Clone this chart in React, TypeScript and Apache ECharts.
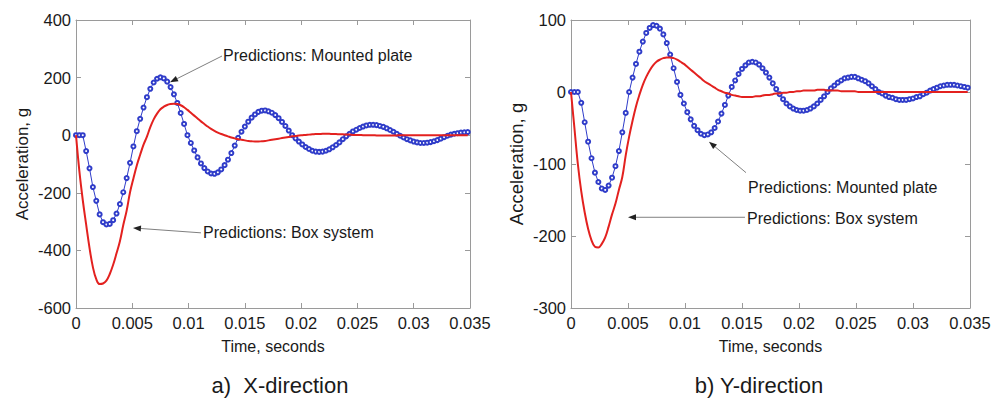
import React, { useEffect, useRef } from "react";
import * as echarts from "echarts";

// Sampling step of the recorded time histories (seconds)
const TIME_STEP = 0.0003;

// a) X-direction, acceleration in g
const X_MOUNTED = [
  0, 0, 0, -55, -115, -180, -228, -275, -302, -310,
  -308, -295, -272, -239, -198, -149, -96, -39,
  14, 57, 96, 132, 161, 183, 196, 201,
  197, 186, 167, 142, 112, 77, 39, 0,
  -27, -53, -77, -98, -114, -126, -133,
  -134, -129, -119, -104, -85, -62, -36, -9,
  12, 30, 47, 61, 72, 81, 85,
  86, 83, 78, 70, 59, 46, 32, 16, 0,
  -11, -22, -32, -41, -48, -54, -57, -58,
  -57, -54, -49, -42, -34, -25, -14, -4,
  5, 13, 19, 25, 30, 34, 36,
  36, 35, 32, 29, 24, 18, 12, 5,
  -2, -8, -14, -18, -22, -25, -27,
  -27, -26, -24, -21, -17, -12, -7, -2,
  2, 5, 7, 9, 10, 11,
];
const X_BOX = [
  0, -125, -225, -310, -391, -458, -500, -517, -515,
  -505, -482, -450, -410, -368, -312, -262, -198, -150, -105, -68, -33,
  -5, 28, 55, 75, 90, 99, 105, 108, 109,
  108, 104, 97, 88, 78, 68, 58, 48, 39, 30, 22, 15, 9, 4,
  0, -4, -8, -11, -14, -16, -18, -20, -21, -22,
  -22, -21, -20, -18, -16, -14, -12, -10, -8, -6,
  -4, -3, -1, 0, 1, 2, 3, 4, 4, 5,
  5, 5, 4, 4, 3, 3, 2,
  2, 1, 1, 1, 0, 0, 0, 0, -1, -1, -1, -1, -1, -1, -1,
  0, 0, 0, 0, 0, 0, 0, 0, 0, 0, 0,
  0, 0, 0, 0, 0, 0, 0, 0, 0, 0,
];

// b) Y-direction, acceleration in g
const Y_MOUNTED = [
  0, 0, 0, -15, -42, -69, -92, -112, -125, -134,
  -136, -130, -119, -103, -82, -56, -29, 0,
  20, 39, 56, 70, 82, 89, 93,
  92, 88, 80, 68, 52, 33, 14, -4,
  -16, -28, -38, -47, -53, -58, -60,
  -59, -56, -50, -41, -30, -18, -5,
  7, 16, 25, 32, 37, 41, 42,
  41, 38, 33, 27, 20, 12, 4, -3,
  -10, -16, -20, -23, -25, -26, -26,
  -25, -23, -20, -16, -11, -6, 0,
  5, 9, 13, 16, 19, 20, 21,
  21, 19, 17, 15, 12, 8, 4, 0,
  -2, -5, -7, -8, -10, -11, -11,
  -11, -10, -9, -7, -6, -3, -1,
  2, 4, 6, 8, 9, 10, 10,
  10, 9, 8, 7, 6,
];
const Y_BOX = [
  0, -50, -100, -138, -167, -190, -206, -215, -216, -211, -202, -187, -170, -155, -136, -118,
  -88, -62, -40, -20, -4, 10, 21, 30, 37, 42, 45, 47, 48, 48,
  47, 45, 42, 39, 35, 31, 27, 23, 19, 15, 12, 9, 6, 3, 1, -1, -2,
  -4, -5, -6, -7, -7, -7, -7, -6, -6, -5,
  -4, -4, -3, -2, -2, -1, -1, 0, 0, 1,
  1, 2, 2, 2, 2, 3, 3, 3, 2, 2,
  2, 2, 1, 1,
  1, 1, 1, 0, 0, 0, 0, 0, 0, 0, 0, 0,
  0, 0, 0, 0, 0, 0, 0, 0, 0, 0, 0, 0,
  0, 0, 0, 0, 0, 0, 0, 0, 0, 0, 0, 0,
];

// annotations: arrow tip, arrow tail, label anchor (data coordinates)
const X_NOTES = [
  { text: "Predictions: Mounted plate", tip: [0.00835, 184], tail: [0.01297, 275], label: [0.01306, 278] },
  { text: "Predictions: Box system", tip: [0.00506, -322], tail: [0.0111, -339], label: [0.01128, -339] },
];
const Y_NOTES = [
  { text: "Predictions: Mounted plate", tip: [0.0121, -69], tail: [0.01535, -112], label: [0.01553, -133] },
  { text: "Predictions: Box system", tip: [0.005, -174], tail: [0.01526, -174], label: [0.01544, -175] },
];

const CAPTIONS = ["a)  X-direction", "b) Y-direction"];

const FONT = "'Liberation Sans', Arial, Helvetica, sans-serif";
const FRAME = "#9a9a9a";
const INK = "#1a1a1a";
const RED = "#e3211f";
const BLUE = "#2f3cc9";

const pairs = (vals: number[]) =>
  vals.map((v, i) => [Number((i * TIME_STEP).toFixed(4)), v]);

function xAxes(grid: number) {
  const line = { show: true, onZero: false, lineStyle: { color: FRAME, width: 1 } };
  const tick = { show: true, inside: true, length: 5, lineStyle: { color: FRAME } };
  return [
    {
      type: "value", gridIndex: grid, position: "bottom", min: 0, max: 0.035, interval: 0.005,
      axisLine: line, axisTick: tick, splitLine: { show: false },
      axisLabel: { color: INK, fontSize: 16.5, fontFamily: FONT, margin: 6, showMinLabel: true, showMaxLabel: true },
      name: "Time, seconds", nameLocation: "middle", nameGap: 30,
      nameTextStyle: { color: INK, fontSize: 16, fontFamily: FONT },
    },
    {
      type: "value", gridIndex: grid, position: "top", min: 0, max: 0.035, interval: 0.005,
      axisLine: line, axisTick: tick, splitLine: { show: false }, axisLabel: { show: false },
    },
  ];
}

function yAxes(grid: number, min: number, max: number, interval: number, nameSize: number) {
  const line = { show: true, onZero: false, lineStyle: { color: FRAME, width: 1 } };
  const tick = { show: true, inside: true, length: 5, lineStyle: { color: FRAME } };
  return [
    {
      type: "value", gridIndex: grid, position: "left", min, max, interval,
      axisLine: line, axisTick: tick, splitLine: { show: false },
      axisLabel: { color: INK, fontSize: 16.5, fontFamily: FONT, margin: 5, showMinLabel: true, showMaxLabel: true },
      name: "Acceleration, g", nameLocation: "middle", nameGap: 45,
      nameTextStyle: { color: INK, fontSize: nameSize, fontFamily: FONT },
    },
    {
      type: "value", gridIndex: grid, position: "right", min, max, interval,
      axisLine: line, axisTick: tick, splitLine: { show: false }, axisLabel: { show: false },
    },
  ];
}

function boxSeries(data: number[], ax: number) {
  return {
    type: "line", xAxisIndex: ax, yAxisIndex: ax, data: pairs(data),
    showSymbol: false, smooth: 0.4, lineStyle: { color: RED, width: 2 }, z: 4,
  };
}
function plateSeries(data: number[], ax: number) {
  return {
    type: "line", xAxisIndex: ax, yAxisIndex: ax, data: pairs(data),
    symbol: "emptyCircle", symbolSize: 4, showAllSymbol: true,
    itemStyle: { color: BLUE, borderColor: BLUE, borderWidth: 1 },
    lineStyle: { color: BLUE, width: 1 }, z: 3,
  };
}

export default function App() {
  const ref = useRef<HTMLDivElement>(null);
  useEffect(() => {
    if (!ref.current) return;
    const chart = echarts.init(ref.current, undefined, { renderer: "svg" });
    chart.setOption({
      animation: false,
      backgroundColor: "#ffffff",
      grid: [
        { left: 76, top: 20, width: 394, height: 288 },
        { left: 571, top: 20, width: 399, height: 288 },
      ],
      xAxis: [...xAxes(0), ...xAxes(1)],
      yAxis: [...yAxes(0, -600, 400, 200, 17), ...yAxes(1, -300, 100, 100, 18.5)],
      series: [
        plateSeries(X_MOUNTED, 0),
        boxSeries(X_BOX, 0),
        plateSeries(Y_MOUNTED, 2),
        boxSeries(Y_BOX, 2),
      ],
    });

    const graphics: any[] = [];
    const addNotes = (notes: typeof X_NOTES, ax: number) => {
      const finder = { xAxisIndex: ax, yAxisIndex: ax };
      notes.forEach((n) => {
        const tip = chart.convertToPixel(finder, n.tip) as number[];
        const tail = chart.convertToPixel(finder, n.tail) as number[];
        const lab = chart.convertToPixel(finder, n.label) as number[];
        const dx = tip[0] - tail[0];
        const dy = tip[1] - tail[1];
        const len = Math.hypot(dx, dy) || 1;
        const ux = dx / len;
        const uy = dy / len;
        const bx = tip[0] - ux * 8;
        const by = tip[1] - uy * 8;
        graphics.push({
          type: "line", z: 10,
          shape: { x1: tail[0], y1: tail[1], x2: bx, y2: by },
          style: { stroke: "#808080", lineWidth: 1 },
        });
        graphics.push({
          type: "polygon", z: 10,
          shape: { points: [[tip[0], tip[1]], [bx - uy * 3, by + ux * 3], [bx + uy * 3, by - ux * 3]] },
          style: { fill: "#222222" },
        });
        graphics.push({
          type: "text", z: 10, x: lab[0], y: lab[1],
          style: {
            text: n.text, fill: INK, fontSize: 16, fontFamily: FONT,
            textAlign: "left", align: "left", textVerticalAlign: "middle", verticalAlign: "middle",
          },
        });
      });
    };
    addNotes(X_NOTES, 0);
    addNotes(Y_NOTES, 2);
    const capX = [280, 759];
    CAPTIONS.forEach((c, i) => {
      graphics.push({
        type: "text", z: 10, x: capX[i], y: 385,
        style: {
          text: c, fill: INK, fontSize: 22, lineHeight: 22, fontFamily: FONT,
          textAlign: "center", align: "center", textVerticalAlign: "middle", verticalAlign: "middle",
        },
      });
    });
    chart.setOption({ graphic: graphics });
    return () => chart.dispose();
  }, []);
  return (
    <div
      ref={ref}
      style={{ position: "absolute", left: 0, top: 0, width: 1001, height: 398, background: "#fff" }}
    />
  );
}
